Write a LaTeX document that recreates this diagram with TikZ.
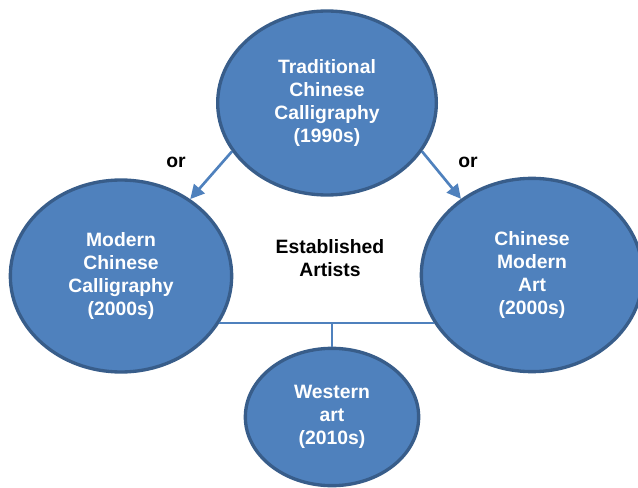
\documentclass[tikz,border=0pt]{standalone}
\usepackage{fontspec}
\setmainfont{Liberation Sans}
\usetikzlibrary{shapes.geometric,arrows.meta}

\definecolor{bubblefill}{HTML}{4F81BD}
\definecolor{bubbleline}{HTML}{385D8A}

\begin{document}
\begin{tikzpicture}[x=0.75pt, y=-0.75pt,
    bubble/.style={draw=bubbleline, line width=2.5pt, fill=bubblefill, shape=ellipse, inner sep=0pt,
      text=white, align=center, font=\fontsize{14.5pt}{17.25pt}\selectfont\bfseries},
    tag/.style={align=center, font=\fontsize{14.5pt}{17.25pt}\selectfont\bfseries},
    link/.style={draw=bubblefill, line width=2pt},
    pick/.style={link, -{Triangle[length=10.5pt, width=10.5pt]}}]
  \clip (0,0) rectangle (638,488);

  % Periods
  \node[bubble, minimum width=164pt, minimum height=138pt] (trad) at (327,103) {Traditional\\Chinese\\Calligraphy\\(1990s)};
  \node[bubble, minimum width=166pt, minimum height=144pt] (modern) at (121,276) {Modern\\Chinese\\Calligraphy\\(2000s)};
  \node[bubble, minimum width=166pt, minimum height=145pt] (chineseart) at (532,275) {Chinese\\Modern\\Art\\(2000s)};
  \node[bubble, minimum width=130pt, minimum height=103pt] (western) at (332,417) {Western\\art\\(2010s)};

  % Labels
  \node[tag] (established) at (330,258) {Established\\Artists};
  \node[tag] (orleft) at (176,162) {or};
  \node[tag] (orright) at (468,162) {or};

  % Choices
  \draw[pick] (trad.207) -- (modern.48);
  \draw[pick] (trad.333) -- (chineseart.133);

  % Join
  \coordinate (junction) at (332,323);
  \draw[link, line width=2.2pt] (junction -| modern.334) -- (junction -| chineseart.206);
  \draw[link, line width=2.2pt] (junction) -- (western.north);
\end{tikzpicture}
\end{document}
